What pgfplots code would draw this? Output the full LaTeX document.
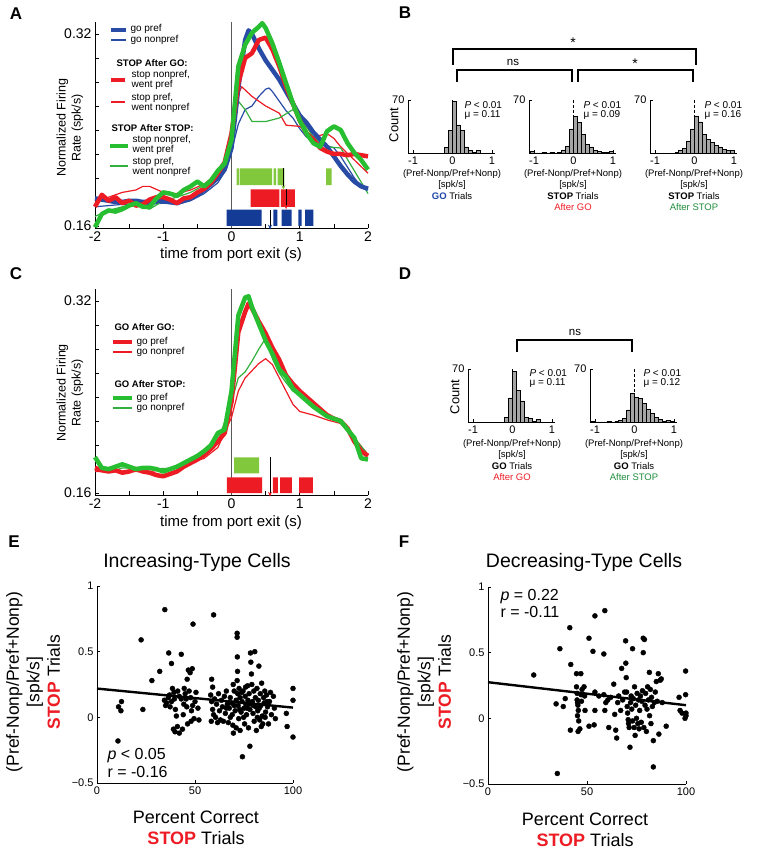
\documentclass[border=0pt]{standalone}
\usepackage{fontspec}
\setmainfont{Liberation Sans}
\usepackage{pgfplots}
\pgfplotsset{compat=1.18}
\usetikzlibrary{arrows.meta}
\definecolor{cblue}{RGB}{40,75,165}
\definecolor{cbluebar}{RGB}{20,60,150}
\definecolor{cbluetext}{RGB}{30,70,170}
\definecolor{cred}{RGB}{237,28,36}
\definecolor{cgreen}{RGB}{40,190,50}
\definecolor{cgreenthin}{RGB}{50,175,60}
\definecolor{cgreenbar}{RGB}{130,200,60}
\definecolor{cdkgreen}{RGB}{30,140,60}
\definecolor{histgray}{RGB}{165,165,165}
\newcommand{\fs}[2]{\fontsize{#1}{#2}\selectfont}
\pgfplotsset{
 base/.style={scale only axis, axis lines*=left, axis line style={-, line width=0.7pt},
   tick align=inside, tick style={black, line width=0.6pt}, clip=false},
 rate/.style={base, width=273pt, height=206.4pt, xmin=-2, xmax=2, ymin=0.158, ymax=0.33,
   xtick={-2,-1,0,1,2}, xticklabels={-2,-1,0,1,2}, minor xtick={-1.5,-0.5,0.5,1.5},
   ytick={0.16,0.18,0.20,0.22,0.24,0.26,0.28,0.30,0.32}, yticklabels={0.16,,,,,,,,0.32},
   major tick length=4pt, minor tick length=4pt, tick label style={font=\fs{14}{14}}},
 hist/.style={base, width=87pt, height=53pt, xmin=-1.13, xmax=1.08, ymin=0, ymax=70,
   xtick={-1,0,1}, xticklabels={-1,0,1}, ytick={70}, yticklabels={70},
   major tick length=2.5pt, tick label style={font=\fs{11}{11}}},
 scat/.style={base, width=196pt, height=197pt, xmin=0, xmax=100, ymin=-0.5, ymax=1,
   xtick={0,50,100}, xticklabels={0,50,100}, ytick={-0.5,0,0.5,1}, yticklabels={−0.5,0,0.5,1},
   major tick length=3pt, tick label style={font=\fs{11}{11}}},
 thick/.style={line width=4.5pt, line join=round},
 thin/.style={line width=1.2pt, line join=round},
 hbar/.style={ybar interval, fill=histgray, draw=black, line width=0.5pt},
 zline/.style={black, densely dashed, line width=0.6pt},
}
\begin{document}
\begin{tikzpicture}[x=1pt,y=1pt]
\path[use as bounding box] (0,0) rectangle (764,853);

% ---------------- Panel A ----------------
\begin{axis}[rate, at={(95pt,624.6pt)}]
\addplot[gray!70!black, line width=0.8pt] coordinates {(0,0.158) (0,0.33)};
% bars
\addplot[fill=cgreenbar, draw=none] coordinates {(0.076,0.194) (0.115,0.194) (0.115,0.208) (0.076,0.208) (0.076,0.194)};
\addplot[fill=cgreenbar, draw=none] coordinates {(0.125,0.194) (0.594,0.194) (0.594,0.208) (0.125,0.208) (0.125,0.194)};
\addplot[fill=cgreenbar, draw=none] coordinates {(0.618,0.194) (0.652,0.194) (0.652,0.208) (0.618,0.208) (0.618,0.194)};
\addplot[fill=cgreenbar, draw=none] coordinates {(0.676,0.194) (0.774,0.194) (0.774,0.208) (0.676,0.208) (0.676,0.194)};
\addplot[fill=cgreenbar, draw=none] coordinates {(1.385,0.194) (1.468,0.194) (1.468,0.208) (1.385,0.208) (1.385,0.194)};
\addplot[fill=cred, draw=none] coordinates {(0.281,0.176) (0.701,0.176) (0.701,0.1905) (0.281,0.1905) (0.281,0.176)};
\addplot[fill=cred, draw=none] coordinates {(0.725,0.176) (0.930,0.176) (0.930,0.1905) (0.725,0.1905) (0.725,0.176)};
\addplot[fill=cbluebar, draw=none] coordinates {(-0.071,0.16) (0.442,0.16) (0.442,0.1737) (-0.071,0.1737) (-0.071,0.16)};
\addplot[fill=cbluebar, draw=none] coordinates {(0.613,0.16) (0.672,0.16) (0.672,0.1737) (0.613,0.1737) (0.613,0.16)};
\addplot[fill=cbluebar, draw=none] coordinates {(0.735,0.16) (0.882,0.16) (0.882,0.1737) (0.735,0.1737) (0.735,0.16)};
\addplot[fill=cbluebar, draw=none] coordinates {(0.979,0.16) (1.028,0.16) (1.028,0.1737) (0.979,0.1737) (0.979,0.16)};
\addplot[fill=cbluebar, draw=none] coordinates {(1.077,0.16) (1.199,0.16) (1.199,0.1737) (1.077,0.1737) (1.077,0.16)};
\addplot[black, line width=0.7pt, -{Stealth[length=5pt,width=4pt,color=cgreenbar]}] coordinates {(0.76,0.208) (0.76,0.190)};
\addplot[black, line width=0.7pt, -{Stealth[length=5pt,width=4pt,color=cred]}] coordinates {(0.80,0.1905) (0.80,0.174)};
\addplot[black, line width=0.7pt, -{Stealth[length=5pt,width=4pt,color=cbluebar]}] coordinates {(0.564,0.1737) (0.564,0.157)};
% curves
\addplot[cblue, thin] coordinates {(-2.0,0.176) (-1.8,0.177) (-1.6,0.178) (-1.4,0.177) (-1.2,0.178) (-1.0,0.179) (-0.8,0.178) (-0.6,0.181) (-0.4,0.187) (-0.2,0.196) (-0.1,0.205) (0.0,0.222) (0.1,0.245) (0.2,0.257) (0.3,0.260) (0.4,0.268) (0.5,0.274) (0.55,0.275) (0.6,0.272) (0.7,0.264) (0.8,0.256) (0.9,0.250) (1.0,0.241) (1.1,0.234) (1.2,0.231) (1.3,0.229) (1.4,0.227) (1.5,0.225) (1.6,0.218) (1.7,0.209) (1.8,0.200) (1.9,0.193) (2.0,0.190)};
\addplot[cred, thin] coordinates {(-2.0,0.181) (-1.8,0.184) (-1.6,0.188) (-1.4,0.190) (-1.3,0.193) (-1.2,0.193) (-1.0,0.188) (-0.8,0.187) (-0.6,0.190) (-0.4,0.195) (-0.2,0.204) (-0.1,0.212) (0.0,0.240) (0.1,0.270) (0.15,0.276) (0.3,0.268) (0.5,0.260) (0.7,0.254) (0.8,0.244) (1.0,0.243) (1.2,0.234) (1.4,0.237) (1.5,0.233) (1.6,0.226) (1.8,0.215) (2.0,0.204)};
\addplot[cgreenthin, thin] coordinates {(-2.0,0.168) (-1.8,0.173) (-1.6,0.176) (-1.4,0.177) (-1.2,0.174) (-1.0,0.181) (-0.8,0.184) (-0.6,0.188) (-0.4,0.194) (-0.2,0.204) (-0.1,0.213) (0.0,0.232) (0.1,0.264) (0.2,0.257) (0.3,0.247) (0.5,0.247) (0.7,0.250) (0.9,0.257) (1.0,0.251) (1.2,0.234) (1.4,0.226) (1.6,0.225) (1.8,0.206) (2.0,0.187)};
\addplot[cblue, thick] coordinates {(-2.0,0.183) (-1.9,0.182) (-1.8,0.181) (-1.7,0.180) (-1.6,0.180) (-1.5,0.181) (-1.4,0.181) (-1.3,0.180) (-1.2,0.180) (-1.1,0.181) (-1.0,0.181) (-0.9,0.180) (-0.8,0.179) (-0.7,0.181) (-0.6,0.183) (-0.5,0.186) (-0.4,0.190) (-0.3,0.195) (-0.2,0.200) (-0.1,0.207) (0.0,0.225) (0.1,0.275) (0.2,0.315) (0.25,0.323) (0.3,0.320) (0.4,0.308) (0.5,0.298) (0.6,0.290) (0.7,0.282) (0.8,0.272) (0.9,0.262) (1.0,0.252) (1.1,0.246) (1.2,0.238) (1.3,0.232) (1.4,0.226) (1.5,0.218) (1.6,0.210) (1.7,0.203) (1.8,0.197) (1.9,0.193) (2.0,0.191)};
\addplot[cred, thick] coordinates {(-2.0,0.176) (-1.9,0.186) (-1.8,0.181) (-1.7,0.184) (-1.6,0.179) (-1.5,0.181) (-1.4,0.177) (-1.3,0.178) (-1.2,0.182) (-1.1,0.184) (-1.0,0.184) (-0.9,0.182) (-0.8,0.179) (-0.7,0.183) (-0.6,0.184) (-0.5,0.188) (-0.4,0.191) (-0.3,0.196) (-0.2,0.204) (-0.1,0.213) (0.0,0.237) (0.1,0.279) (0.2,0.300) (0.3,0.304) (0.4,0.315) (0.5,0.317) (0.6,0.307) (0.7,0.293) (0.8,0.276) (0.9,0.262) (1.0,0.248) (1.1,0.237) (1.2,0.232) (1.3,0.225) (1.4,0.222) (1.5,0.220) (1.6,0.220) (1.7,0.219) (1.8,0.220) (1.9,0.219) (2.0,0.218)};
\addplot[cgreen, thick] coordinates {(-2.0,0.159) (-1.9,0.170) (-1.8,0.173) (-1.7,0.172) (-1.6,0.174) (-1.5,0.177) (-1.4,0.179) (-1.3,0.176) (-1.2,0.176) (-1.1,0.183) (-1.0,0.188) (-0.9,0.187) (-0.8,0.185) (-0.7,0.190) (-0.6,0.193) (-0.5,0.197) (-0.4,0.193) (-0.3,0.198) (-0.2,0.206) (-0.1,0.212) (0.0,0.232) (0.1,0.293) (0.2,0.311) (0.3,0.321) (0.4,0.326) (0.45,0.329) (0.5,0.325) (0.6,0.312) (0.7,0.296) (0.8,0.279) (0.9,0.262) (1.0,0.248) (1.1,0.237) (1.2,0.229) (1.3,0.226) (1.4,0.239) (1.5,0.243) (1.6,0.240) (1.7,0.229) (1.8,0.221) (1.9,0.215) (2.0,0.207)};
\end{axis}
% legend A
\draw[cblue, line width=4.5pt] (111,823) -- (126,823);
\node[anchor=west, font=\fs{10}{10}] at (127,824) {go pref};
\draw[cblue, line width=1.2pt] (111,813) -- (126,813);
\node[anchor=west, font=\fs{10}{10}] at (127,813) {go nonpref};
\node[anchor=west, font=\fs{9.5}{10}\bfseries] at (113,790) {STOP After GO:};
\draw[cred, line width=4.5pt] (111,773) -- (125,773);
\node[anchor=west, align=left, font=\fs{10}{10}] at (128,773) {stop nonpref,\\went pref};
\draw[cred, line width=1.2pt] (111,751) -- (125,751);
\node[anchor=west, align=left, font=\fs{10}{10}] at (128,750.5) {stop pref,\\went nonpref};
\node[anchor=west, font=\fs{9.5}{10}\bfseries] at (108,725) {STOP After STOP:};
\draw[cgreen, line width=4.5pt] (110,707) -- (128,707);
\node[anchor=west, align=left, font=\fs{10}{10}] at (129,708) {stop nonpref,\\went pref};
\draw[cgreenthin, line width=1.2pt] (110,687) -- (128,687);
\node[anchor=west, align=left, font=\fs{10}{10}] at (129,686.5) {stop pref,\\went nonpref};
\node[rotate=90, align=center, font=\fs{12.5}{15}] at (70,725) {Normalized Firing\\Rate (spk/s)};
\node[font=\fs{15}{15}] at (231,598) {time from port exit (s)};

% ---------------- Panel C ----------------
\begin{axis}[rate, at={(95pt,357.5pt)}]
\addplot[gray!70!black, line width=0.8pt] coordinates {(0,0.158) (0,0.33)};
\addplot[fill=cgreenbar, draw=none] coordinates {(0.037,0.1765) (0.403,0.1765) (0.403,0.1897) (0.037,0.1897) (0.037,0.1765)};
\addplot[fill=cred, draw=none] coordinates {(-0.066,0.16) (0.447,0.16) (0.447,0.1732) (-0.066,0.1732) (-0.066,0.16)};
\addplot[fill=cred, draw=none] coordinates {(0.608,0.16) (0.681,0.16) (0.681,0.1732) (0.608,0.1732) (0.608,0.16)};
\addplot[fill=cred, draw=none] coordinates {(0.711,0.16) (0.886,0.16) (0.886,0.1732) (0.711,0.1732) (0.711,0.16)};
\addplot[fill=cred, draw=none] coordinates {(0.989,0.16) (1.194,0.16) (1.194,0.1732) (0.989,0.1732) (0.989,0.16)};
\addplot[black, line width=0.7pt, -{Stealth[length=5pt,width=4pt,color=cred]}] coordinates {(0.564,0.1897) (0.564,0.157)};
\addplot[cred, thin] coordinates {(-2.0,0.178) (-1.6,0.178) (-1.2,0.178) (-0.8,0.181) (-0.4,0.189) (-0.2,0.198) (0.0,0.223) (0.1,0.245) (0.2,0.256) (0.4,0.268) (0.5,0.272) (0.6,0.267) (0.7,0.256) (0.8,0.245) (0.9,0.234) (1.0,0.228) (1.2,0.225) (1.4,0.221) (1.6,0.218) (1.8,0.206) (2.0,0.192)};
\addplot[cgreenthin, thin] coordinates {(-2.0,0.181) (-1.8,0.177) (-1.6,0.181) (-1.2,0.180) (-0.8,0.181) (-0.4,0.192) (-0.2,0.203) (0.0,0.236) (0.1,0.256) (0.2,0.261) (0.3,0.270) (0.4,0.280) (0.5,0.289) (0.6,0.272) (0.7,0.260) (0.8,0.252) (0.9,0.245) (1.0,0.242) (1.2,0.234) (1.4,0.224) (1.6,0.219) (1.8,0.206) (2.0,0.192)};
\addplot[cred, thick] coordinates {(-2.0,0.181) (-1.9,0.179) (-1.8,0.178) (-1.7,0.179) (-1.6,0.177) (-1.5,0.178) (-1.4,0.180) (-1.3,0.178) (-1.2,0.177) (-1.1,0.175) (-1.0,0.174) (-0.9,0.176) (-0.8,0.178) (-0.7,0.182) (-0.6,0.185) (-0.5,0.188) (-0.4,0.192) (-0.3,0.197) (-0.2,0.203) (-0.1,0.210) (0.0,0.236) (0.1,0.294) (0.2,0.311) (0.25,0.318) (0.3,0.314) (0.4,0.303) (0.5,0.293) (0.6,0.281) (0.7,0.271) (0.8,0.258) (0.9,0.251) (1.0,0.245) (1.1,0.240) (1.2,0.235) (1.3,0.230) (1.4,0.225) (1.5,0.222) (1.6,0.220) (1.7,0.214) (1.8,0.203) (1.9,0.195) (2.0,0.191)};
\addplot[cgreen, thick] coordinates {(-2.0,0.190) (-1.9,0.181) (-1.8,0.180) (-1.7,0.182) (-1.6,0.184) (-1.5,0.182) (-1.4,0.180) (-1.3,0.181) (-1.2,0.181) (-1.1,0.180) (-1.0,0.178) (-0.9,0.180) (-0.8,0.182) (-0.7,0.185) (-0.6,0.188) (-0.5,0.191) (-0.4,0.195) (-0.3,0.200) (-0.2,0.210) (-0.1,0.213) (0.0,0.245) (0.1,0.308) (0.2,0.323) (0.25,0.324) (0.3,0.315) (0.4,0.301) (0.5,0.287) (0.6,0.276) (0.7,0.263) (0.8,0.257) (0.9,0.247) (1.0,0.242) (1.1,0.237) (1.2,0.232) (1.3,0.228) (1.4,0.224) (1.5,0.222) (1.6,0.220) (1.7,0.213) (1.8,0.206) (1.9,0.189) (2.0,0.188)};
\end{axis}
\node[anchor=west, font=\fs{9.5}{10}\bfseries] at (111,526) {GO After GO:};
\draw[cred, line width=4.5pt] (113,511) -- (132,511);
\node[anchor=west, font=\fs{10}{10}] at (133,511.5) {go pref};
\draw[cred, line width=1.2pt] (113,501) -- (132,501);
\node[anchor=west, font=\fs{10}{10}] at (133,501) {go nonpref};
\node[anchor=west, font=\fs{9.5}{10}\bfseries] at (111,469) {GO After STOP:};
\draw[cgreen, line width=4.5pt] (113,455) -- (132,455);
\node[anchor=west, font=\fs{10}{10}] at (133,455.5) {go pref};
\draw[cgreenthin, line width=1.2pt] (113,445) -- (132,445);
\node[anchor=west, font=\fs{10}{10}] at (133,445) {go nonpref};
\node[rotate=90, align=center, font=\fs{12.5}{15}] at (70,460) {Normalized Firing\\Rate (spk/s)};
\node[font=\fs{15}{15}] at (231,330) {time from port exit (s)};

% ---------------- Panel B ----------------
\begin{axis}[hist, at={(408pt,700pt)}]
\addplot[zline] coordinates {(0,0) (0,70)};
\addplot[hbar] coordinates {(-0.2,7) (-0.1,30) (0,68) (0.1,37) (0.2,30) (0.3,8) (0.4,3) (0.5,1) (0.6,3) (0.7,0)};
\end{axis}
\begin{axis}[hist, at={(529pt,700pt)}]
\addplot[zline] coordinates {(0,0) (0,70)};
\addplot[hbar] coordinates {(-1.1,2) (-1.0,0) (-0.9,0) (-0.8,1) (-0.7,0) (-0.6,1) (-0.5,0) (-0.4,1) (-0.3,4) (-0.2,9) (-0.1,32) (0,48) (0.1,40) (0.2,25) (0.3,11) (0.4,8) (0.5,3) (0.6,2) (0.7,1) (0.8,1) (0.9,2) (1.0,0)};
\end{axis}
\begin{axis}[hist, at={(650pt,700pt)}]
\addplot[zline] coordinates {(0,0) (0,70)};
\addplot[hbar] coordinates {(-0.5,1) (-0.4,3) (-0.3,6) (-0.2,16) (-0.1,32) (0,49) (0.1,41) (0.2,25) (0.3,18) (0.4,14) (0.5,10) (0.6,8) (0.7,5) (0.8,3) (0.9,3) (1.0,0)};
\end{axis}
\node[rotate=90, font=\fs{13}{13}] at (394,728) {Count};
\foreach \xx/\mu in {461/0.11, 580/0.09, 701/0.16}{
  \node[anchor=west, font=\fs{10}{10}] at (\xx,748) {\textit{P} < 0.01};
  \node[anchor=west, font=\fs{10}{10}] at (\xx,738.5) {μ = \mu};
}
\node[anchor=north, align=center, font=\fs{9.5}{11.4}] at (452,687) {(Pref-Nonp/Pref+Nonp)\\{[spk/s]}\\\textcolor{cbluetext}{\textbf{GO}} Trials};
\node[anchor=north, align=center, font=\fs{9.5}{11.4}] at (573,687) {(Pref-Nonp/Pref+Nonp)\\{[spk/s]}\\\textbf{STOP} Trials\\\textcolor{cred}{After GO}};
\node[anchor=north, align=center, font=\fs{9.5}{11.4}] at (694,687) {(Pref-Nonp/Pref+Nonp)\\{[spk/s]}\\\textbf{STOP} Trials\\\textcolor{cdkgreen}{After STOP}};
\draw[line width=1.1pt] (453,788) -- (453,804) -- (696,804) -- (696,788);
\draw[line width=1.1pt] (457,771) -- (457,783) -- (572,783) -- (572,771);
\draw[line width=1.1pt] (578,771) -- (578,783) -- (693,783) -- (693,771);
\node[font=\fs{14}{14}] at (573,810) {*};
\node[font=\fs{11.5}{11.5}] at (513,791) {ns};
\node[font=\fs{14}{14}] at (635,789) {*};

% ---------------- Panel D ----------------
\begin{axis}[hist, at={(468pt,431pt)}]
\addplot[zline] coordinates {(0,0) (0,70)};
\addplot[hbar] coordinates {(-0.2,6) (-0.1,32) (0,67) (0.1,42) (0.2,28) (0.3,6) (0.4,5) (0.5,1) (0.6,3) (0.7,0)};
\end{axis}
\begin{axis}[hist, at={(590pt,431pt)}]
\addplot[zline] coordinates {(0,0) (0,70)};
\addplot[hbar] coordinates {(-1.1,1) (-1.0,0) (-0.9,0) (-0.8,0) (-0.7,1) (-0.6,0) (-0.5,1) (-0.4,2) (-0.3,5) (-0.2,16) (-0.1,38) (0,33) (0.1,31) (0.2,25) (0.3,17) (0.4,11) (0.5,6) (0.6,3) (0.7,1) (0.8,2) (0.9,1) (1.0,0)};
\end{axis}
\node[rotate=90, font=\fs{13}{13}] at (455,456) {Count};
\foreach \xx/\mu in {526/0.11, 640/0.12}{
  \node[anchor=west, font=\fs{10}{10}] at (\xx,480) {\textit{P} < 0.01};
  \node[anchor=west, font=\fs{10}{10}] at (\xx,470.5) {μ = \mu};
}
\node[anchor=north, align=center, font=\fs{9.5}{11.4}] at (512,417) {(Pref-Nonp/Pref+Nonp)\\{[spk/s]}\\\textbf{GO} Trials\\\textcolor{cred}{After GO}};
\node[anchor=north, align=center, font=\fs{9.5}{11.4}] at (634,417) {(Pref-Nonp/Pref+Nonp)\\{[spk/s]}\\\textbf{GO} Trials\\\textcolor{cdkgreen}{After STOP}};
\draw[line width=1.1pt] (517,501) -- (517,513) -- (632,513) -- (632,501);
\node[font=\fs{11.5}{11.5}] at (575,521) {ns};

% ---------------- Panel E ----------------
\begin{axis}[scat, at={(97pt,70pt)}]
\addplot[only marks, mark=*, mark size=2.5pt, black] coordinates {
(11,0.08) (12.5,0.12) (12.2,0.05) (10.7,-0.18) (22.5,0.59) (23.4,0.06) (28,0.28) (32,0.35) (34.6,0.82) (36.6,0.49) (38,0.41) (43,0.48)
(34.4,0.13) (35,0.09) (35.5,0.11) (36.4,0.15) (37,0.17) (38,0.12) (38.5,0.22) (39.3,0.19) (39.5,0.14) (40,0.06) (40.5,0.01) (39,-0.09) (39.8,-0.11) (41,-0.07) (42,-0.12) (43.6,-0.09) (44,0.02) (44.3,0.1) (45,0.18) (44.5,0.22) (45.5,0.14) (46,0.29) (46.6,0.36) (47.5,0.34) (48.6,0.37) (47,0.2) (47.8,0.15) (48.2,0.05) (48.8,0.09) (49,0.71) (50,0.12) (50.5,0.19) (49.5,-0.01) (48,-0.03) (51.5,0.07) (52,-0.02) (46.2,-0.05) (43,0.14) (42,0.16) (41.2,0.2) (37.3,0.08) (45.8,0.08)
(58.5,0.29) (59,0.23) (59.5,0.78) (58,0.17) (58.5,0.12) (59,0.06) (59.5,0.02) (58.3,-0.03) (60,0.14) (61,0.1) (62,0.18) (62.5,0.05) (63,-0.02) (63.5,0.13) (64,0.08) (65,0.16) (65.5,0.03) (66,0.2) (66.5,0.1) (67,-0.04) (67.5,0.07) (68,0.15) (68.5,0.11) (69,0.02) (69.3,-0.06) (69.6,-0.12) (70,0.2) (70.5,0.05) (71,0.13) (71.5,0.64) (71.5,0.61) (71.6,0.46) (71.7,0.35) (71.5,0.28) (71.8,0.18) (72,0.09) (72.3,-0.01) (72.5,0.22) (73,0.15) (73.5,0.04) (74,0.12) (74.2,-0.3) (74.5,0.2) (75,0.07) (75.3,-0.05) (75.6,0.16) (76,0.1) (76.3,0.02) (76.8,0.24) (77,0.13) (77.3,-0.08) (77.6,0.18) (78,-0.22) (78,0.06) (78.3,0.49) (78.5,0.42) (78.8,0.33) (79,0.25) (79.3,0.12) (79.6,0.03) (80,0.2) (80.2,-0.03) (80.5,0.5) (80.8,0.15) (81,0.08) (81.3,-0.1) (81.6,0.22) (82,0.05) (82.3,0.13) (82.6,0.39) (83,-0.02) (83.3,0.18) (83.6,0.09) (84,0.26) (84.3,0.01) (84.6,-0.05) (85,0.15) (85.3,0.11) (85.6,0.2) (86,0.04) (86.5,0.17) (87,0.08) (87.5,-0.05) (88,0.12) (88.5,0.19) (89,0.02) (90,0.16) (90.5,0.07) (91,-0.01) (96.6,0.03) (97,-0.07) (100,0.22) (100,0.13) (100,-0.15)
(60.5,0.0) (61.5,-0.04) (64.5,-0.03) (66,0.07) (68,0.0) (70,0.09) (71,-0.08) (72.8,0.06) (73.8,0.19) (74.8,0.0) (75.8,0.23) (76.5,0.07) (77.8,0.1) (79.8,0.09) (81.8,0.0) (82.8,0.07) (83.8,-0.07) (85.8,0.0) (86.8,0.12) (73,-0.1) (69.5,0.25)};
\addplot[black, line width=2.4pt] coordinates {(0,0.219) (100,0.074)};
\end{axis}
\node[font=\fs{19.5}{19.5}] at (197,291) {Increasing-Type Cells};
\node[rotate=90, align=center, font=\fs{17.5}{20.5}] at (33,171) {(Pref-Nonp/Pref+Nonp)\\{[spk/s]}\\\textcolor{cred}{\textbf{STOP}} Trials};
\node[font=\fs{18}{18}] at (196,36) {Percent Correct};
\node[font=\fs{18}{18}] at (196,15) {\textcolor{cred}{\textbf{STOP}} Trials};
\node[anchor=west, font=\fs{16}{16}] at (104,97) {\textit{p} < 0.05};
\node[anchor=west, font=\fs{16}{16}] at (104,81) {r = -0.16};

% ---------------- Panel F ----------------
\begin{axis}[scat, width=198pt, at={(488pt,69pt)}]
\addplot[only marks, mark=*, mark size=2.5pt, black] coordinates {
(23.1,0.33) (34.4,0.11) (36.3,0.53) (38,0.09) (39,0.15) (35,-0.42) (41.3,0.69) (41.8,0.41) (41.6,-0.09) (44.7,0.34) (44.7,0.24) (45,0.19) (45,0.14) (45.2,0.12) (45.4,0.1) (45.6,0.06) (45.2,0.02) (45.8,-0.02) (45.5,-0.1) (46.4,-0.08) (47,0.18) (47.5,0.22) (46.9,0.34) (47.2,0.13) (48.5,0.24) (48.8,0.17) (49,0.06) (51,0.61) (51,-0.06) (53,0.51) (53.6,-0.05) (54,0.78) (54,0.2) (54,0.06) (56,0.17) (58.5,0.49) (59,0.82) (58.5,0.18) (59.5,0.12) (59,0.06) (60.5,0.14) (61,-0.07) (62,0.16) (63.5,0.26) (64,0.03) (64.5,-0.09) (65,-0.15) (65.5,0.12) (66,0.17) (67,0.06) (67.5,0.38) (68,0.14) (69,0.2) (69.5,0.59) (69.6,0.42) (69.8,0.31) (70,0.2) (70.3,0.09) (70.5,0.04) (70.8,-0.01) (71,-0.04) (71.3,-0.07) (71.7,-0.22) (72,0.12) (72.3,0.17) (72.6,0.07) (73,0.53) (73,-0.02) (73.4,0.15) (73.8,-0.07) (74,0.24) (74.3,-0.13) (74.6,0.1) (75,0.0) (75.3,0.19) (75.7,-0.04) (76,0.14) (76.3,-0.08) (76.6,0.06) (77,0.17) (77.4,-0.03) (77.7,0.13) (78,0.21) (78.4,0.61) (78.4,0.5) (78.7,-0.07) (79,0.6) (79.3,0.1) (79.6,0.19) (80,-0.1) (80.3,0.07) (80.6,0.24) (81,0.14) (81.5,0.35) (81.6,0.02) (82,0.22) (82.3,-0.04) (82.6,0.16) (83,0.09) (83.5,-0.17) (83.5,-0.37) (84,0.12) (84.5,0.2) (85,0.28) (85.5,0.13) (86,0.34) (86.3,-0.12) (87,0.29) (87.5,0.3) (88,0.12) (90,-0.06) (96.5,0.16) (97,0.06) (98,0.04) (99.8,0.36) (99.8,0.18) (100,0.04) (100,0.02) (99.5,0.0)};
\addplot[black, line width=2.4pt] coordinates {(0,0.275) (100,0.10)};
\end{axis}
\node[font=\fs{19.5}{19.5}] at (584,291) {Decreasing-Type Cells};
\node[rotate=90, align=center, font=\fs{17.5}{20.5}] at (424,171) {(Pref-Nonp/Pref+Nonp)\\{[spk/s]}\\\textcolor{cred}{\textbf{STOP}} Trials};
\node[font=\fs{18}{18}] at (585,34) {Percent Correct};
\node[font=\fs{18}{18}] at (585,13) {\textcolor{cred}{\textbf{STOP}} Trials};
\node[anchor=west, font=\fs{16}{16}] at (497,256) {\textit{p} = 0.22};
\node[anchor=west, font=\fs{16}{16}] at (497,241) {r = -0.11};

% panel letters
\node[font=\fs{17}{17}\bfseries] at (16,839) {A};
\node[font=\fs{17}{17}\bfseries] at (405,840) {B};
\node[font=\fs{17}{17}\bfseries] at (16,579) {C};
\node[font=\fs{17}{17}\bfseries] at (405,579) {D};
\node[font=\fs{17}{17}\bfseries] at (14,311) {E};
\node[font=\fs{17}{17}\bfseries] at (404,311) {F};
\end{tikzpicture}
\end{document}
